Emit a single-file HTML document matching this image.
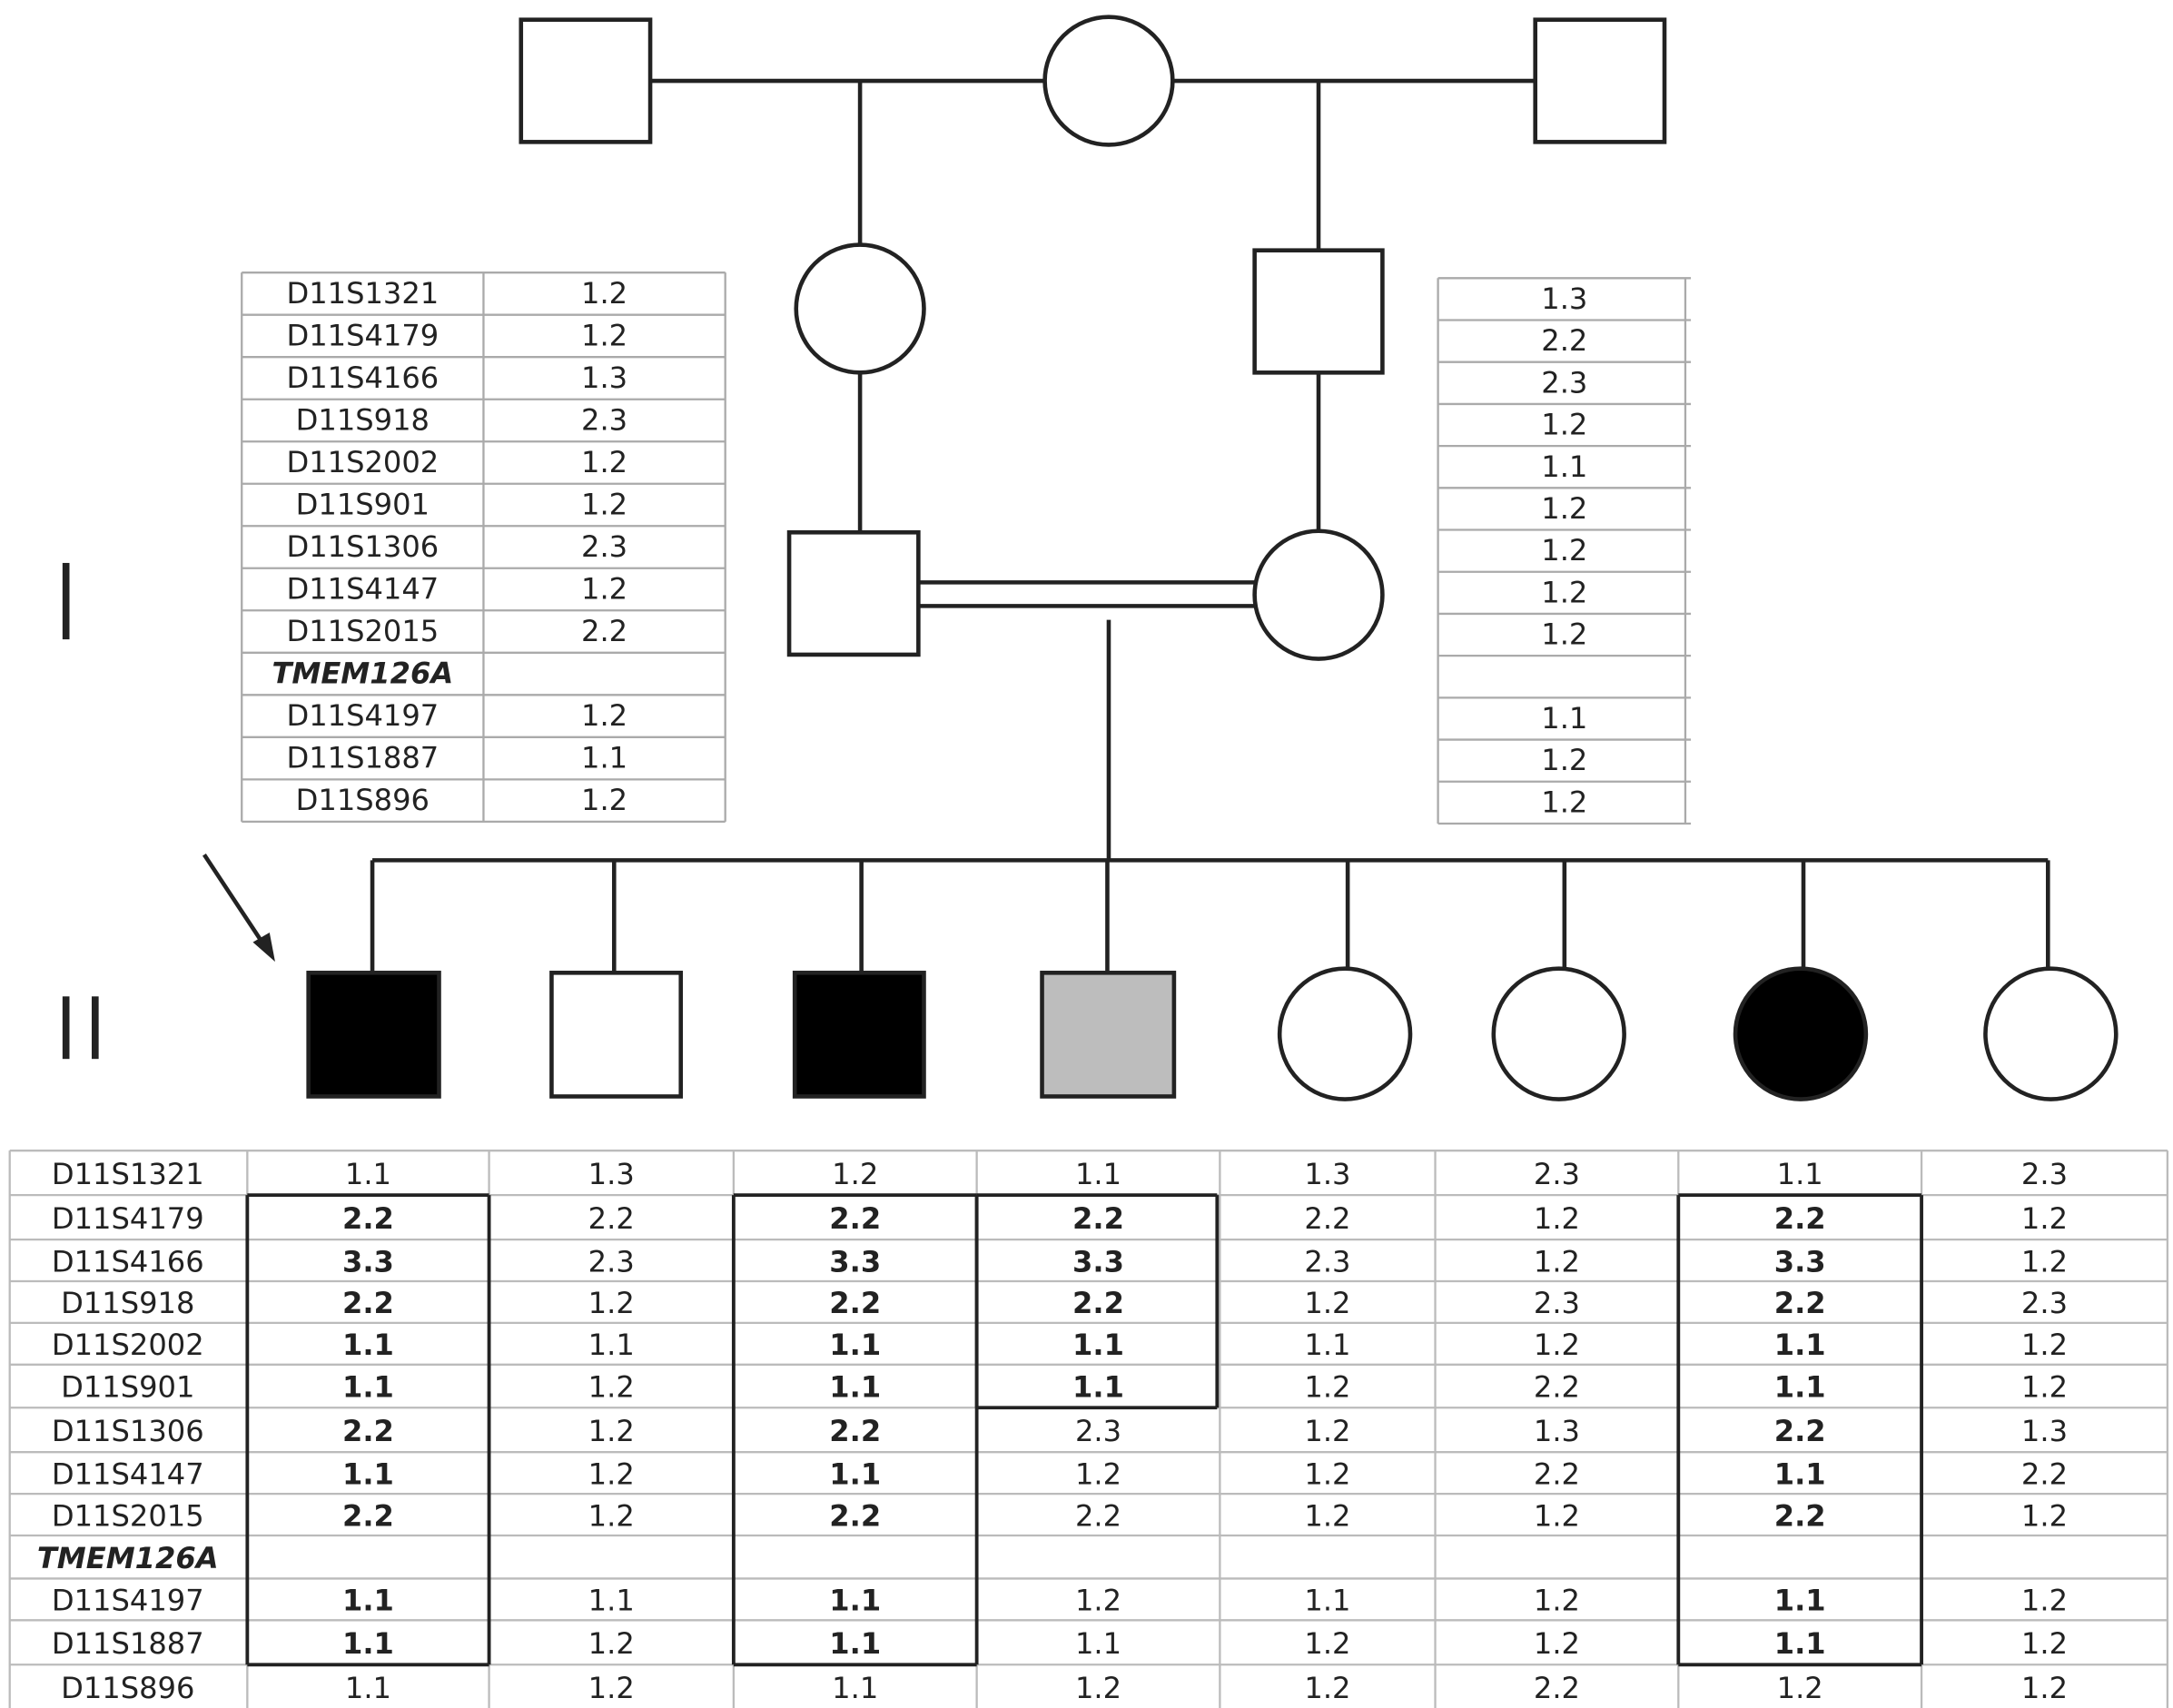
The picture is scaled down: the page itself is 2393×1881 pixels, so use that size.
<!DOCTYPE html>
<html><head><meta charset="utf-8"><style>
html,body{margin:0;padding:0;background:#fff;}
svg{display:block;}
text{font-family:"DejaVu Sans","Liberation Sans",sans-serif;font-size:21px;fill:#222;text-anchor:middle;}
.b{font-weight:bold;}
</style></head><body>
<svg width="2393" height="1881" viewBox="0 0 1564 1229" xmlns="http://www.w3.org/2000/svg">
<g stroke="#222" stroke-width="3" fill="#fff">
<line x1="468" y1="58" x2="1105" y2="58"/>
<rect x="375" y="14" width="93" height="88"/>
<circle cx="798" cy="58" r="46"/>
<rect x="1105" y="14" width="93" height="88"/>
<line x1="619" y1="58" x2="619" y2="178"/>
<line x1="949" y1="58" x2="949" y2="180"/>
<circle cx="619" cy="222" r="46"/>
<rect x="903" y="180" width="92" height="88"/>
<line x1="619" y1="268" x2="619" y2="383"/>
<line x1="949" y1="268" x2="949" y2="383"/>
<line x1="661" y1="419" x2="905" y2="419"/>
<line x1="661" y1="436" x2="905" y2="436"/>
<rect x="568" y="383" width="93" height="88"/>
<circle cx="949" cy="428" r="46"/>
<line x1="798" y1="446" x2="798" y2="619"/>
<line x1="268" y1="619" x2="1474" y2="619"/>
<line x1="268" y1="619" x2="268" y2="700"/>
<line x1="442" y1="619" x2="442" y2="700"/>
<line x1="620" y1="619" x2="620" y2="700"/>
<line x1="797" y1="619" x2="797" y2="700"/>
<line x1="970" y1="619" x2="970" y2="697"/>
<line x1="1126" y1="619" x2="1126" y2="697"/>
<line x1="1298" y1="619" x2="1298" y2="697"/>
<line x1="1474" y1="619" x2="1474" y2="697"/>
<rect x="222" y="700" width="94" height="89" fill="#000"/>
<rect x="397" y="700" width="93" height="89"/>
<rect x="572" y="700" width="93" height="89" fill="#000"/>
<rect x="750" y="700" width="95" height="89" fill="#bdbdbd"/>
<circle cx="968" cy="744" r="47"/>
<circle cx="1122" cy="744" r="47"/>
<circle cx="1296" cy="744" r="47" fill="#000"/>
<circle cx="1476" cy="744" r="47"/>
<line x1="147" y1="615" x2="190" y2="680"/>
</g>
<polygon points="198,692 182,678 194,671" fill="#222"/>
<g fill="#222">
<rect x="45" y="405" width="5" height="55"/>
<rect x="45" y="717" width="5" height="45"/>
<rect x="66" y="717" width="5" height="45"/>
</g>
</svg>
<script>
(function(){
var NS="http://www.w3.org/2000/svg";
var svg=document.querySelector('svg');
function L(x1,y1,x2,y2,c,w){var l=document.createElementNS(NS,'line');l.setAttribute('x1',x1);l.setAttribute('y1',y1);l.setAttribute('x2',x2);l.setAttribute('y2',y2);l.setAttribute('stroke',c||'#aaa');l.setAttribute('stroke-width',w||1.5);svg.appendChild(l);}
function T(x,y,s,b,it){var t=document.createElementNS(NS,'text');t.setAttribute('x',x);t.setAttribute('y',y);t.textContent=s;if(b)t.setAttribute('class','b');if(it){t.setAttribute('font-style','italic');t.setAttribute('font-weight','bold');}svg.appendChild(t);}
var markers=["D11S1321","D11S4179","D11S4166","D11S918","D11S2002","D11S901","D11S1306","D11S4147","D11S2015","TMEM126A","D11S4197","D11S1887","D11S896"];
var lv=["1.2","1.2","1.3","2.3","1.2","1.2","2.3","1.2","2.2","","1.2","1.1","1.2"];
var t0=196,h=30.4,i;
for(i=0;i<=13;i++)L(174,t0+i*h,522,t0+i*h);
L(174,t0,174,t0+13*h);L(348,t0,348,t0+13*h);L(522,t0,522,t0+13*h);
for(i=0;i<13;i++){T(261,t0+i*h+22,markers[i],false,i==9);T(435,t0+i*h+22,lv[i]);}
var rv=["1.3","2.2","2.3","1.2","1.1","1.2","1.2","1.2","1.2","","1.1","1.2","1.2"];
t0=200;h=30.2;
for(i=0;i<=13;i++)L(1035,t0+i*h,1217,t0+i*h);
L(1035,t0,1035,t0+13*h);L(1213,t0,1213,t0+13*h);
for(i=0;i<13;i++)T(1126,t0+i*h+22,rv[i]);
var rows=[828,860,892,922,952,982,1013,1045,1075,1105,1136,1166,1198,1230];
var cols=[7,178,352,528,703,878,1033,1208,1383,1560];
rows.forEach(function(y){L(7,y,1560,y,'#bbb',1.5);});
cols.forEach(function(x){L(x,828,x,1230,'#bbb',1.5);});
var data=[
["1.1","2.2","3.3","2.2","1.1","1.1","2.2","1.1","2.2","","1.1","1.1","1.1"],
["1.3","2.2","2.3","1.2","1.1","1.2","1.2","1.2","1.2","","1.1","1.2","1.2"],
["1.2","2.2","3.3","2.2","1.1","1.1","2.2","1.1","2.2","","1.1","1.1","1.1"],
["1.1","2.2","3.3","2.2","1.1","1.1","2.3","1.2","2.2","","1.2","1.1","1.2"],
["1.3","2.2","2.3","1.2","1.1","1.2","1.2","1.2","1.2","","1.1","1.2","1.2"],
["2.3","1.2","1.2","2.3","1.2","2.2","1.3","2.2","1.2","","1.2","1.2","2.2"],
["1.1","2.2","3.3","2.2","1.1","1.1","2.2","1.1","2.2","","1.1","1.1","1.2"],
["2.3","1.2","1.2","2.3","1.2","1.2","1.3","2.2","1.2","","1.2","1.2","1.2"]];
var bold=[[1,11],null,[1,11],[1,5],null,null,[1,11],null];
for(var r=0;r<13;r++){
 var cy=(rows[r]+rows[r+1])/2+8;
 T(92,cy,markers[r],false,r==9);
 for(var c=0;c<8;c++){var bb=bold[c]&&r>=bold[c][0]&&r<=bold[c][1];T((cols[c+1]+cols[c+2])/2,cy,data[c][r],bb);}
}
function R(x1,y1,x2,y2){L(x1,y1,x2,y1,'#222',2.5);L(x1,y2,x2,y2,'#222',2.5);L(x1,y1,x1,y2,'#222',2.5);L(x2,y1,x2,y2,'#222',2.5);}
R(178,860,352,1198);R(528,860,703,1198);R(703,860,876,1013);R(1208,860,1383,1198);
})();
</script>
</body></html>
